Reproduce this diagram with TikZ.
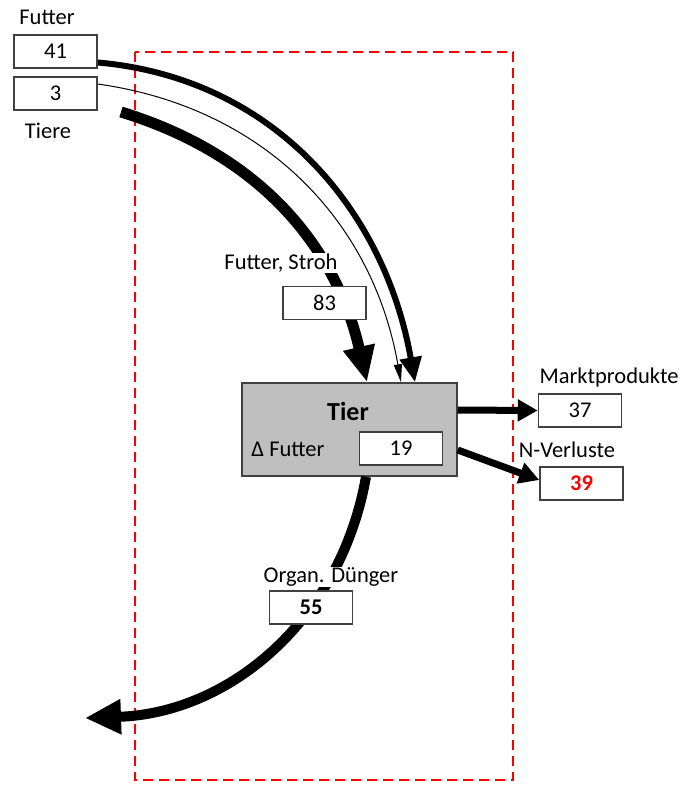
\documentclass[tikz,border=0pt]{standalone}
\usepackage[usenames, dvipsnames, x11names]{xcolor}
\usepackage{fontspec}
\setmainfont{Carlito}
\usetikzlibrary{arrows.meta}
\usetikzlibrary{calc}

\definecolor{tiergray}{HTML}{BFBFBF}
\definecolor{boxline}{HTML}{404040}
\tikzset{
    valbox/.style={draw=boxline, line width=1.5pt, fill=white, minimum width=83pt, minimum height=33pt, inner sep=0pt},
    flowtext/.style={inner sep=1pt, fill=white},
}

\begin{document}
\begin{tikzpicture}[x=1pt, y=1pt, font=\fontsize{22.5}{27}\selectfont]
        \useasboundingbox (0, 0) rectangle (688, -785);
        \draw[red, line width=2pt, dash pattern=on 10pt off 6pt] (135, -52) rectangle (513, -780);
        % nodes
        \node[draw=boxline, line width=1.5pt, fill=tiergray, minimum width=215pt, minimum height=93pt] (tier) at (349.5, -429.5) {};
        \node[inner sep=0pt, font=\fontsize{26}{30}\selectfont\bfseries] (tiername) at (348, -411) {Tier};
        \node[inner sep=0pt] (deltafutter) at (288, -449) {Δ Futter};
        \node[valbox] (f19) at (401, -448.5) {19};
        \node[valbox] (f41) at (55.5, -51.5) {41};
        \node[valbox] (f3) at (55.5, -93.5) {3};
        \node[valbox] (markt) at (580, -410.5) {37};
        \node[valbox] (verlust) at (581.5, -483.5) {\textcolor{red}{\textbf{39}}};
        \coordinate (tierein) at (121, -112);
        \coordinate (duengout) at (85, -718);
        % flows
        \draw[line width=11pt, -{Triangle[length=36pt, width=30pt]}] (tierein) to[out=-17, in=103] ([xshift=17.5pt]tier.north);
        \draw[line width=6pt, -{Triangle[length=25pt, width=21pt]}] ([yshift=-11pt]f41.east) to[out=-5, in=100] ([xshift=65.5pt]tier.north);
        \draw[line width=1pt, -{Triangle[length=18pt, width=8pt]}] ([yshift=9.5pt]f3.east) to[out=-8, in=100] ([xshift=51.5pt]tier.north);
        \draw[line width=7pt, -{Triangle[length=20pt, width=21pt]}] ([yshift=19.5pt]tier.east) -- (markt.west);
        \draw[line width=7pt, -{Triangle[length=20pt, width=21pt]}] ([yshift=-20.5pt]tier.east) -- ([yshift=3.5pt]verlust.west);
        \draw[line width=10pt, -{Triangle[length=36pt, width=33pt]}] ([xshift=16.5pt]tier.south) to[out=-100, in=2] (duengout);
        % boxes on the flows
        \node[valbox] (f83) at (324.5, -303) {83};
        \node[valbox] (f55) at (311, -607.5) {\textbf{55}};
        % labels
        \node[flowtext] (futterlab) at (47, -17) {Futter};
        \node[flowtext] (tierelab) at (48, -131) {Tiere};
        \node[flowtext] (strohlab) at (281, -263) {Futter, Stroh};
        \node[flowtext] (marktlab) at (609, -377) {Marktprodukte};
        \node[flowtext] (verlustlab) at (567, -450) {N-Verluste};
        \node[flowtext] (duenglab) at (331, -577) {Organ. Dünger};
    \end{tikzpicture}
\end{document}
